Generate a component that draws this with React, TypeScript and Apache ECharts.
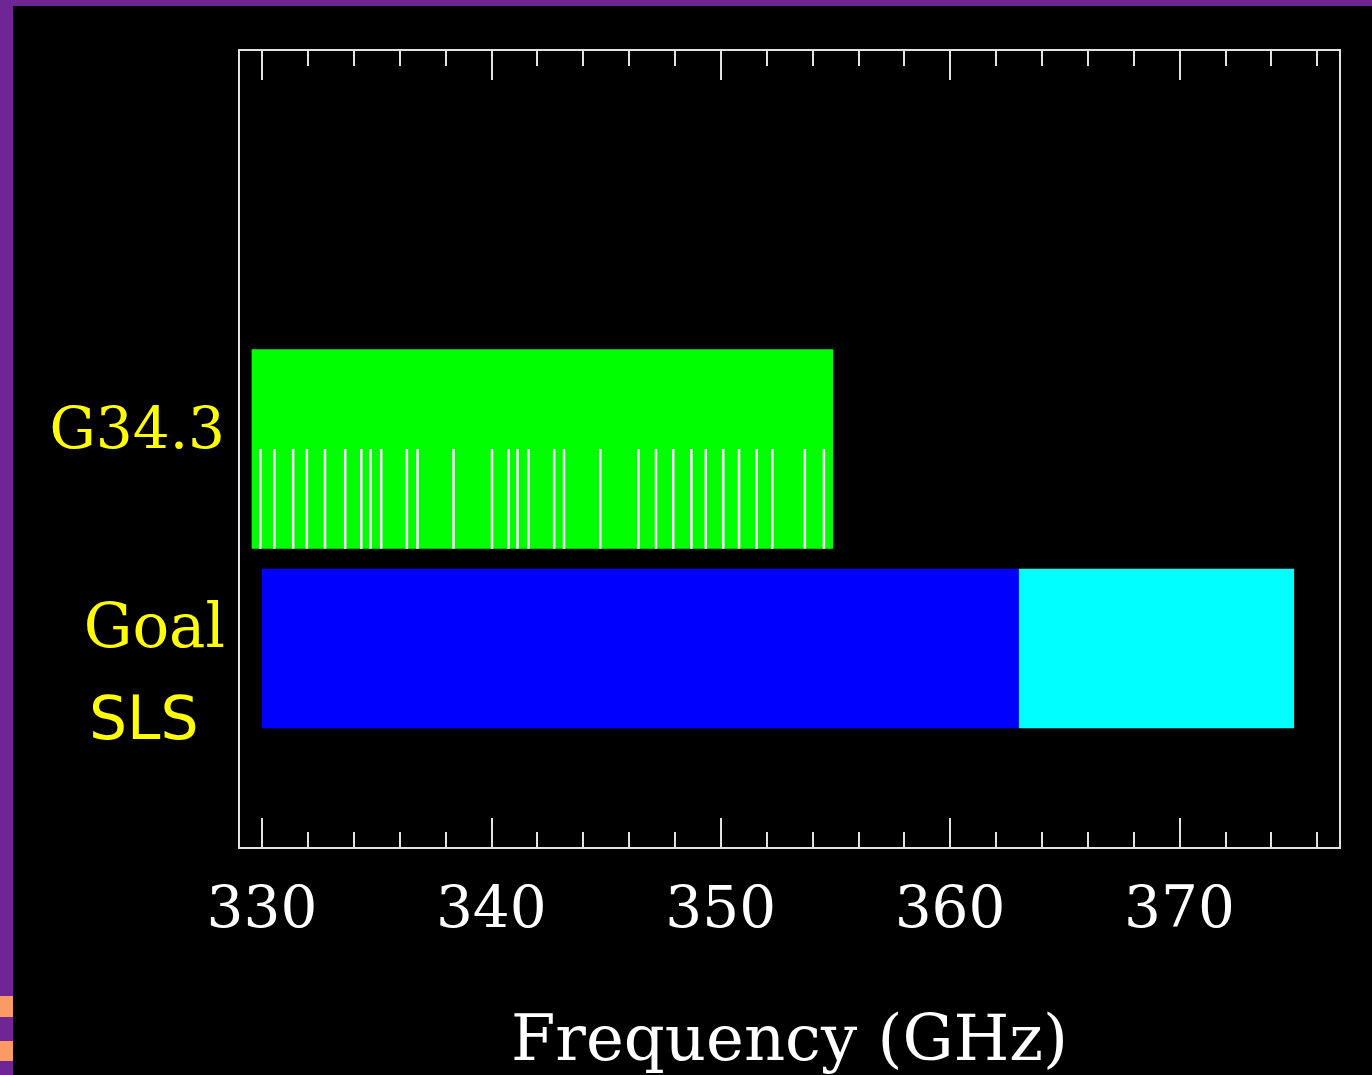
import React, { useEffect, useRef } from "react";
import * as echarts from "echarts";

// ---- data ----
const rowLabels = ["Goal", "G34.3"];
const rowValues = [1, 2];
const g343Range = [329.55, 354.9];
const goalBlueRange = [330, 363];
const goalCyanRange = [363, 375];
const g343Lines = [
  329.93, 330.54, 331.36, 331.96, 332.75, 333.63, 334.33, 334.73, 335.2,
  336.32, 336.78, 338.35, 340.03, 340.75, 341.14, 341.62, 342.74, 343.17,
  344.75, 346.41, 347.18, 347.93, 348.72, 349.35, 350.11, 350.8, 351.57,
  352.25, 353.67, 354.5,
];
const majorTicks = [330, 340, 350, 360, 370];
const minorTicks = [
  332, 334, 336, 338, 342, 344, 346, 348, 352, 354, 356, 358, 362, 364, 366,
  368, 372, 374, 376,
];
const xMin = 329;
const xMax = 377;
const xTitle = "Frequency (GHz)";
const annotation = "SLS";

const FRAME = "#e2e2e2";
const YELLOW = "#ffff00";

function rectItem(half: number, color: string) {
  return (params: any, api: any) => {
    const a = api.coord([api.value(0), api.value(2) + half]);
    const b = api.coord([api.value(1), api.value(2) - half]);
    return {
      type: "rect",
      shape: { x: a[0], y: a[1], width: b[0] - a[0], height: b[1] - a[1] },
      style: { fill: color },
    };
  };
}

function xAxisDef(position: string, ticks: number[], length: number, labels: boolean, extra: any = {}) {
  return {
    type: "value",
    position,
    min: xMin,
    max: xMax,
    axisLine: { show: false },
    splitLine: { show: false },
    axisTick: {
      show: true,
      inside: true,
      length,
      customValues: ticks,
      lineStyle: { color: FRAME, width: 2 },
    },
    axisLabel: labels
      ? {
          show: true,
          customValues: ticks,
          margin: 30,
          color: "#ffffff",
          fontFamily: "DejaVu Serif",
          fontSize: 58,
        }
      : { show: false },
    ...extra,
  };
}

export default function App() {
  const ref = useRef<HTMLDivElement>(null);
  useEffect(() => {
    document.body.style.margin = "0";
    const chart = echarts.init(ref.current!, null, { renderer: "svg" });
    const option: any = {
      animation: false,
      backgroundColor: "#000000",
      grid: {
        left: 239,
        top: 50,
        right: 32,
        bottom: 227,
        show: true,
        containLabel: false,
        outerBoundsMode: "none",
        borderColor: FRAME,
        borderWidth: 2,
        backgroundColor: "transparent",
      },
      xAxis: [
        xAxisDef("bottom", majorTicks, 30, true, {
          name: xTitle,
          nameLocation: "middle",
          nameGap: 158,
          nameTextStyle: { color: "#ffffff", fontFamily: "DejaVu Serif", fontSize: 64 },
        }),
        xAxisDef("top", majorTicks, 30, false),
        xAxisDef("bottom", minorTicks, 16, false),
        xAxisDef("top", minorTicks, 16, false),
      ],
      yAxis: {
        type: "value",
        min: 0,
        max: 4,
        axisLine: { show: false },
        axisTick: { show: false },
        splitLine: { show: false },
        axisLabel: {
          show: true,
          customValues: rowValues,
          margin: 14,
          verticalAlign: "bottom",
          formatter: (v: number) => {
            const i = rowValues.indexOf(v);
            if (i < 0) return "";
            return i === 0 ? `{b|${rowLabels[i]}}` : `{a|${rowLabels[i]}}`;
          },
          rich: {
            a: { color: YELLOW, fontFamily: "DejaVu Serif", fontSize: 58, lineHeight: 43 },
            b: { color: YELLOW, fontFamily: "DejaVu Serif", fontSize: 61, lineHeight: 47 },
          },
        },
      },
      graphic: [
        { type: "rect", shape: { x: 0, y: 0, width: 1372, height: 6 }, style: { fill: "#6f2594" }, silent: true },
        { type: "rect", shape: { x: 0, y: 0, width: 13, height: 1075 }, style: { fill: "#6f2594" }, silent: true },
        { type: "rect", shape: { x: 0, y: 996, width: 13, height: 21 }, style: { fill: "#fc9a66" }, silent: true },
        { type: "rect", shape: { x: 0, y: 1041, width: 13, height: 20 }, style: { fill: "#fc9a66" }, silent: true },
        {
          type: "text",
          x: 89,
          y: 718,
          silent: true,
          style: {
            text: annotation,
            fill: YELLOW,
            fontFamily: "DejaVu Sans",
            fontSize: 60,
            textAlign: "left",
            textVerticalAlign: "middle",
            verticalAlign: "middle",
          },
        },
      ],
      series: [
        {
          type: "custom",
          silent: true,
          renderItem: rectItem(0.5, "#00ff00"),
          data: [[g343Range[0], g343Range[1], rowValues[1]]],
          encode: { x: [0, 1], y: 2 },
        },
        {
          type: "custom",
          silent: true,
          renderItem: (params: any, api: any) => {
            const p0 = api.coord([api.value(0), rowValues[1]]);
            const p1 = api.coord([api.value(0), rowValues[1] - 0.5]);
            return {
              type: "line",
              shape: { x1: p0[0], y1: p0[1], x2: p1[0], y2: p1[1] },
              style: { stroke: "#ffffff", lineWidth: 2.5 },
            };
          },
          data: g343Lines.map((v) => [v, rowValues[1]]),
          encode: { x: 0, y: 1 },
        },
        {
          type: "custom",
          silent: true,
          renderItem: rectItem(0.4, "#0000ff"),
          data: [[goalBlueRange[0], goalBlueRange[1], rowValues[0]]],
          encode: { x: [0, 1], y: 2 },
        },
        {
          type: "custom",
          silent: true,
          renderItem: rectItem(0.4, "#00ffff"),
          data: [[goalCyanRange[0], goalCyanRange[1], rowValues[0]]],
          encode: { x: [0, 1], y: 2 },
        },
      ],
    };
    chart.setOption(option);
    return () => chart.dispose();
  }, []);
  return (
    <div
      ref={ref}
      style={{ position: "absolute", left: 0, top: 0, width: 1372, height: 1075 }}
    />
  );
}
